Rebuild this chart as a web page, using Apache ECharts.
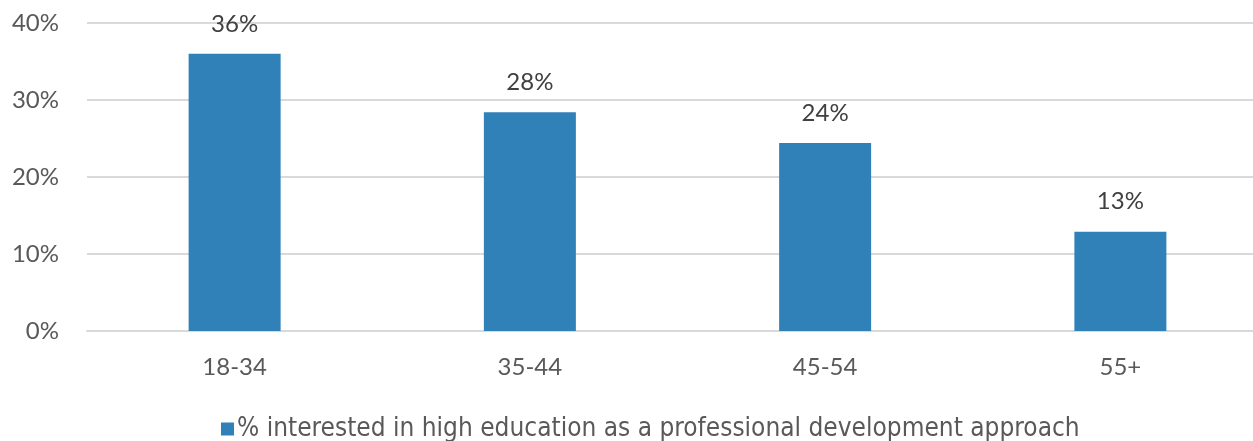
<!DOCTYPE html>
<html>
<head>
<meta charset="utf-8">
<script src="https://cdn.jsdelivr.net/npm/echarts@6/dist/echarts.min.js"></script>
<style>html,body{margin:0;padding:0;background:#fff;overflow:hidden;width:1253px;height:441px}#c{width:1268px;height:441px}</style>
</head>
<body>
<div id="c"></div>
<script>
const categories = ['18-34', '35-44', '45-54', '55+'];
const seriesName = '% interested in high education as a professional development approach';
const values = [36.0, 28.4, 24.4, 12.9];
const yTicks = [0, 10, 20, 30, 40];

const chart = echarts.init(document.getElementById('c'), null, {renderer: 'canvas'});
chart.setOption({
  animation: false,
  grid: {left: 87, right: 0, top: 23, bottom: 110, containLabel: false},
  legend: {
    left: 216, top: 411,
    itemWidth: 13, itemHeight: 13, itemGap: 4,
    icon: 'rect',
    textStyle: {fontFamily: 'DejaVu Sans Condensed', fontSize: 26, color: '#595959', padding: [0, 0, 0, -2]},
    data: [seriesName]
  },
  xAxis: {
    type: 'category', data: categories,
    axisLine: {lineStyle: {color: '#d9d9d9', width: 2}},
    axisTick: {show: false},
    axisLabel: {fontFamily: 'Lato', fontSize: 24, color: '#595959', margin: 24}
  },
  yAxis: {
    type: 'value', min: yTicks[0], max: yTicks[yTicks.length - 1], interval: 10,
    axisLine: {show: false}, axisTick: {show: false},
    splitLine: {lineStyle: {color: '#d9d9d9', width: 2}},
    axisLabel: {fontFamily: 'Lato', fontSize: 24, color: '#595959', margin: 28, formatter: v => v + '%'}
  },
  series: [{
    name: seriesName, type: 'bar', data: values,
    barWidth: 92,
    itemStyle: {color: '#3181b9'},
    label: {show: true, position: 'top', distance: 18, fontFamily: 'Lato', fontSize: 24, color: '#404040',
      formatter: p => Math.round(p.value) + '%'}
  }]
});
</script>
</body>
</html>
